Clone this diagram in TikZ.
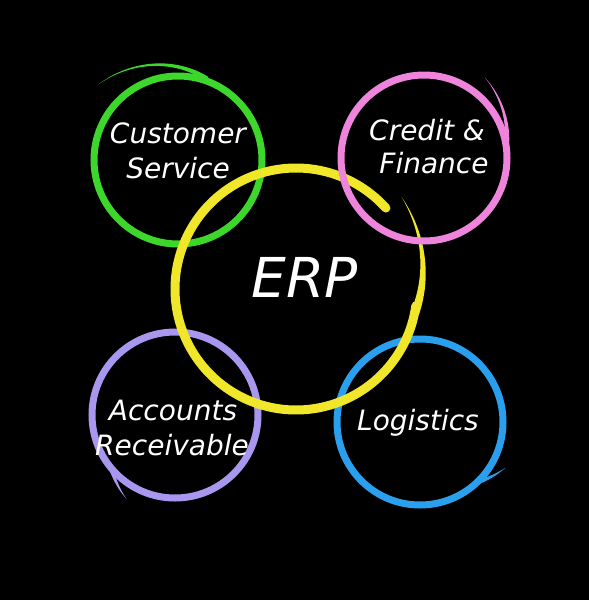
\documentclass[tikz,border=0pt]{standalone}
\usepackage{fontspec}
\setmainfont{DejaVu Sans}
\definecolor{cgreen}{HTML}{3DD62B}
\definecolor{cpink}{HTML}{EE84DC}
\definecolor{cyellow}{HTML}{F0E62A}
\definecolor{cpurple}{HTML}{A996EE}
\definecolor{cblue}{HTML}{2A9FEE}
% #1 cx #2 cy #3 join angle #4 tip angle #5 join radius #6 tip radius #7 width #8 colour
\newcommand{\brushtail}[8]{%
  \fill[#8] plot[domain=#3:#4, samples=50, smooth]
    ({#1+((#5)+((#6)-(#5))*((\x-(#3))/((#4)-(#3))) + (#7)*(1-(\x-(#3))/((#4)-(#3)))/2)*cos(\x)},
     {#2+((#5)+((#6)-(#5))*((\x-(#3))/((#4)-(#3))) + (#7)*(1-(\x-(#3))/((#4)-(#3)))/2)*sin(\x)})
    -- plot[domain=#4:#3, samples=50, smooth]
    ({#1+((#5)+((#6)-(#5))*((\x-(#3))/((#4)-(#3))) - (#7)*(1-(\x-(#3))/((#4)-(#3)))/2)*cos(\x)},
     {#2+((#5)+((#6)-(#5))*((\x-(#3))/((#4)-(#3))) - (#7)*(1-(\x-(#3))/((#4)-(#3)))/2)*sin(\x)})
    -- cycle;}
\begin{document}
\begin{tikzpicture}[x=1pt,y=-1pt,
  ring/.style={line width=7pt},
  lbl/.style={text=white, anchor=base, inner sep=0pt, font=\fontsize{28}{33}\selectfont\itshape},
  big/.style={text=white, anchor=base, inner sep=0pt, font=\fontsize{55}{60}\selectfont\itshape}]
\fill[black] (0,0) rectangle (589,600);
\useasboundingbox (0,0) rectangle (589,600);
% green
\draw[ring, cgreen] (178,160) circle[radius=84pt];
\brushtail{178}{160}{-70}{-137}{86}{110}{5}{cgreen}
% purple
\draw[ring, cpurple] (175,415) circle[radius=83pt];
\brushtail{175}{415}{140}{120}{83}{97}{5}{cpurple}
% blue
\draw[ring, cblue] (420,422) circle[radius=83pt];
\brushtail{420}{422}{45}{28}{84}{97}{5}{cblue}
% yellow
\draw[cyellow, line width=9pt, line cap=round] plot[domain=8:318, samples=120, smooth] ({296+121*cos(\x)},{289+121*sin(\x)});
\brushtail{296}{289}{12}{-41}{121}{140}{9}{cyellow}
% pink
\draw[ring, cpink] (424,158) circle[radius=83pt];
\brushtail{424}{158}{-10}{-53}{84}{101}{5}{cpink}
% texts
\node[lbl] (cs1) at (178,143) {Customer};
\node[lbl] (cs2) at (178,178) {Service};
\node[lbl] (cf1) at (427,140) {Credit \&};
\node[lbl] (cf2) at (434,173) {Finance};
\node[big] (erp) at (305,297) {ERP};
\node[lbl] (ar1) at (173,420) {Accounts};
\node[lbl] (ar2) at (172,455) {Receivable};
\node[lbl] (lg) at (418,430) {Logistics};
\end{tikzpicture}
\end{document}
